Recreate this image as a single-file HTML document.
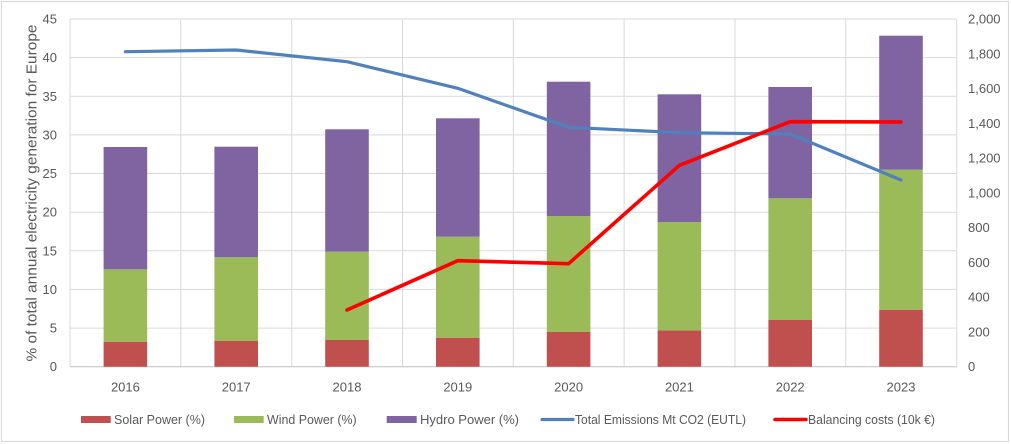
<!DOCTYPE html>
<html><head><meta charset="utf-8"><style>
html,body{margin:0;padding:0;background:#fff;}
svg{display:block;}
text{font-family:"Liberation Sans",sans-serif;fill:#595959;}
</style></head><body>
<svg width="1011" height="444" viewBox="0 0 1011 444" xmlns="http://www.w3.org/2000/svg">
<rect x="0" y="0" width="1011" height="444" fill="#fff"/>
<rect x="1.5" y="1.5" width="1007" height="440" fill="#fff" stroke="#d9d9d9" stroke-width="1.2"/>
<g stroke="#d9d9d9" stroke-width="1">
<line x1="70" y1="19" x2="956.7" y2="19"/>
<line x1="70" y1="57.6" x2="956.7" y2="57.6"/>
<line x1="70" y1="96.3" x2="956.7" y2="96.3"/>
<line x1="70" y1="134.9" x2="956.7" y2="134.9"/>
<line x1="70" y1="173.5" x2="956.7" y2="173.5"/>
<line x1="70" y1="212.2" x2="956.7" y2="212.2"/>
<line x1="70" y1="250.8" x2="956.7" y2="250.8"/>
<line x1="70" y1="289.4" x2="956.7" y2="289.4"/>
<line x1="70" y1="328.1" x2="956.7" y2="328.1"/>
<line x1="70" y1="19" x2="70" y2="366.7"/>
<line x1="180.8" y1="19" x2="180.8" y2="366.7"/>
<line x1="291.7" y1="19" x2="291.7" y2="366.7"/>
<line x1="402.5" y1="19" x2="402.5" y2="366.7"/>
<line x1="513.3" y1="19" x2="513.3" y2="366.7"/>
<line x1="624.1" y1="19" x2="624.1" y2="366.7"/>
<line x1="735" y1="19" x2="735" y2="366.7"/>
<line x1="845.8" y1="19" x2="845.8" y2="366.7"/>
<line x1="956.7" y1="19" x2="956.7" y2="366.7"/>
</g>
<line x1="70" y1="366.7" x2="956.7" y2="366.7" stroke="#bfbfbf" stroke-width="1"/>
<!-- bars -->
<g>
<rect x="103.6" y="341.7" width="43.6" height="25" fill="#C0504D"/>
<rect x="103.6" y="269.3" width="43.6" height="72.4" fill="#9BBB59"/>
<rect x="103.6" y="147" width="43.6" height="122.3" fill="#8064A2"/>

<rect x="214.4" y="340.7" width="43.6" height="26" fill="#C0504D"/>
<rect x="214.4" y="257.3" width="43.6" height="83.4" fill="#9BBB59"/>
<rect x="214.4" y="146.7" width="43.6" height="110.6" fill="#8064A2"/>

<rect x="325.2" y="340" width="43.6" height="26.7" fill="#C0504D"/>
<rect x="325.2" y="251.7" width="43.6" height="88.3" fill="#9BBB59"/>
<rect x="325.2" y="129.3" width="43.6" height="122.4" fill="#8064A2"/>

<rect x="436" y="337.7" width="43.6" height="29" fill="#C0504D"/>
<rect x="436" y="236.7" width="43.6" height="101" fill="#9BBB59"/>
<rect x="436" y="118.3" width="43.6" height="118.4" fill="#8064A2"/>

<rect x="546.8" y="332" width="43.6" height="34.7" fill="#C0504D"/>
<rect x="546.8" y="216" width="43.6" height="116" fill="#9BBB59"/>
<rect x="546.8" y="81.7" width="43.6" height="134.3" fill="#8064A2"/>

<rect x="657.6" y="330.3" width="43.6" height="36.4" fill="#C0504D"/>
<rect x="657.6" y="222" width="43.6" height="108.3" fill="#9BBB59"/>
<rect x="657.6" y="94.3" width="43.6" height="127.7" fill="#8064A2"/>

<rect x="768.4" y="320" width="43.6" height="46.7" fill="#C0504D"/>
<rect x="768.4" y="198.3" width="43.6" height="121.7" fill="#9BBB59"/>
<rect x="768.4" y="87" width="43.6" height="111.3" fill="#8064A2"/>

<rect x="879.2" y="309.7" width="43.6" height="57" fill="#C0504D"/>
<rect x="879.2" y="169.7" width="43.6" height="140" fill="#9BBB59"/>
<rect x="879.2" y="35.7" width="43.6" height="134" fill="#8064A2"/>
</g>
<!-- lines -->
<polyline points="125.4,51.7 236.2,50 347,61.7 457.8,88.3 568.6,127.3 679.4,132.7 790.2,134 901,180" fill="none" stroke="#4F81BD" stroke-width="3.2" stroke-linejoin="round" stroke-linecap="round"/>
<polyline points="347,310 457.8,260.7 568.6,263.7 679.4,165.3 790.2,121.7 901,122" fill="none" stroke="#FF0000" stroke-width="3.6" stroke-linejoin="round" stroke-linecap="round"/>
<!-- left axis labels -->
<g font-size="13" text-anchor="end">
<text x="57" y="23.5">45</text>
<text x="57" y="62.1">40</text>
<text x="57" y="100.8">35</text>
<text x="57" y="139.4">30</text>
<text x="57" y="178">25</text>
<text x="57" y="216.7">20</text>
<text x="57" y="255.3">15</text>
<text x="57" y="293.9">10</text>
<text x="57" y="332.6">5</text>
<text x="57" y="371.2">0</text>
</g>
<!-- right axis labels -->
<g font-size="13" text-anchor="start">
<text x="968" y="23.5">2,000</text>
<text x="968" y="58.3">1,800</text>
<text x="968" y="93">1,600</text>
<text x="968" y="127.8">1,400</text>
<text x="968" y="162.6">1,200</text>
<text x="968" y="197.4">1,000</text>
<text x="968" y="232.1">800</text>
<text x="968" y="266.9">600</text>
<text x="968" y="301.7">400</text>
<text x="968" y="336.4">200</text>
<text x="968" y="371.2">0</text>
</g>
<!-- x labels -->
<g font-size="13" text-anchor="middle">
<text x="125.4" y="391.5">2016</text>
<text x="236.2" y="391.5">2017</text>
<text x="347" y="391.5">2018</text>
<text x="457.8" y="391.5">2019</text>
<text x="568.6" y="391.5">2020</text>
<text x="679.4" y="391.5">2021</text>
<text x="790.2" y="391.5">2022</text>
<text x="901" y="391.5">2023</text>
</g>
<!-- y axis title -->
<text transform="translate(36.5,193) rotate(-90)" font-size="14.5" text-anchor="middle" textLength="337" lengthAdjust="spacingAndGlyphs">% of total annual electricity generation for Europe</text>
<!-- legend -->
<rect x="81" y="416" width="29.7" height="7" fill="#C0504D"/>
<text x="114" y="424" font-size="13" textLength="91" lengthAdjust="spacingAndGlyphs">Solar Power  (%)</text>
<rect x="234" y="416" width="29.7" height="7" fill="#9BBB59"/>
<text x="267" y="424" font-size="13" textLength="89.7" lengthAdjust="spacingAndGlyphs">Wind Power (%)</text>
<rect x="386.7" y="416" width="30" height="7" fill="#8064A2"/>
<text x="420" y="424" font-size="13" textLength="99" lengthAdjust="spacingAndGlyphs">Hydro Power (%)</text>
<line x1="542" y1="419.5" x2="573" y2="419.5" stroke="#4F81BD" stroke-width="3.2" stroke-linecap="round"/>
<text x="575" y="424" font-size="13" textLength="171" lengthAdjust="spacingAndGlyphs">Total Emissions Mt CO2 (EUTL)</text>
<line x1="775" y1="419.5" x2="806" y2="419.5" stroke="#FF0000" stroke-width="3.6" stroke-linecap="round"/>
<text x="808" y="424" font-size="13" textLength="127" lengthAdjust="spacingAndGlyphs">Balancing costs (10k €)</text>
</svg>
</body></html>
